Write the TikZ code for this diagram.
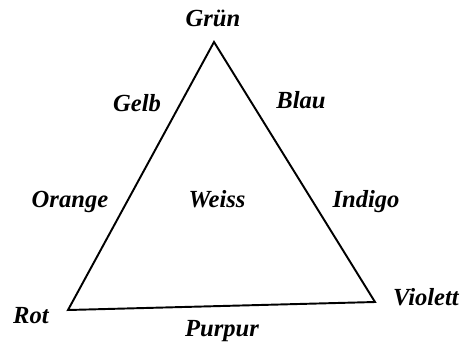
\documentclass[tikz,border=0pt]{standalone}
\usepackage{fontspec}
\setmainfont{Liberation Serif}
\usetikzlibrary{positioning}

\begin{document}
\begin{tikzpicture}[x=0.02cm,y=-0.02cm,
  farbe/.style={font=\fontsize{14}{16}\selectfont\bfseries\itshape,inner sep=1pt},
  kante/.style={line width=1.1pt,line join=miter}
]
  \useasboundingbox (0,0) rectangle (465,348);
  % Vertices
  \coordinate (top) at (214,42);
  \coordinate (left) at (68,310);
  \coordinate (right) at (375,302);
  % Triangle
  \draw[kante] (top) -- (right) -- (left) -- cycle;
  % Labels
  \node[farbe] (gruen) at (213,18) {Grün};
  \node[farbe] (gelb) at (137,103) {Gelb};
  \node[farbe] (blau) at (301,100) {Blau};
  \node[farbe] (orange) at (70,202) {Orange};
  \node[farbe] (weiss) at (217,199) {Weiss};
  \node[farbe] (indigo) at (366,202) {Indigo};
  \node[farbe] (rot) at (31,316) {Rot};
  \node[farbe] (violett) at (426,297) {Violett};
  \node[farbe] (purpur) at (222,331) {Purpur};
\end{tikzpicture}
\end{document}
